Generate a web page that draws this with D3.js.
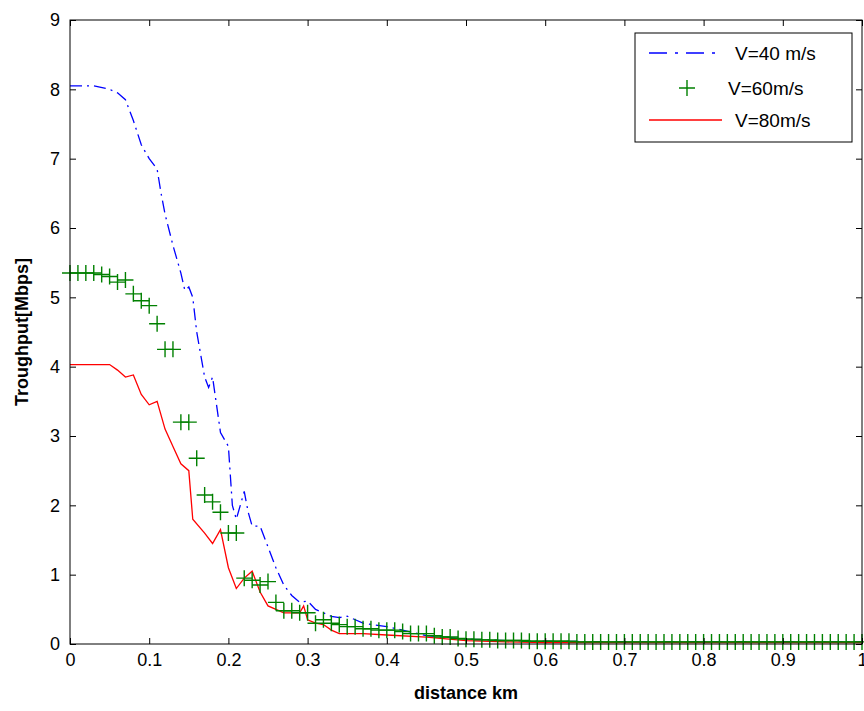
<!DOCTYPE html>
<html><head><meta charset="utf-8">
<script src="https://cdn.jsdelivr.net/npm/d3@7"></script>
<style>body{margin:0;background:#fff}text{font-family:"Liberation Sans",Arial,sans-serif}</style>
</head><body><svg id="chart" width="864" height="711"></svg>
<script>
const xTicks = [0, 0.1, 0.2, 0.3, 0.4, 0.5, 0.6, 0.7, 0.8, 0.9, 1];
const yTicks = [0, 1, 2, 3, 4, 5, 6, 7, 8, 9];

const v40 = [[0,8.05],[0.03,8.05],[0.05,8.0],[0.06,7.95],[0.07,7.85],[0.08,7.55],[0.09,7.2],[0.1,7.0],[0.11,6.85],[0.115,6.5],[0.12,6.2],[0.13,5.75],[0.14,5.35],[0.145,5.1],[0.15,5.15],[0.155,5.0],[0.16,4.5],[0.17,3.85],[0.175,3.7],[0.18,3.85],[0.185,3.45],[0.19,3.05],[0.2,2.85],[0.205,2.0],[0.21,1.8],[0.22,2.2],[0.225,1.9],[0.23,1.7],[0.24,1.7],[0.25,1.4],[0.26,1.1],[0.27,0.85],[0.28,0.7],[0.29,0.6],[0.3,0.62],[0.31,0.5],[0.32,0.45],[0.33,0.4],[0.34,0.38],[0.35,0.4],[0.37,0.3],[0.4,0.25],[0.42,0.2],[0.45,0.12],[0.47,0.1],[0.5,0.07],[0.55,0.05],[0.6,0.04],[0.7,0.03],[0.8,0.03],[0.9,0.03],[1,0.03]];

const v60x = d3.range(0, 101).map(i => i / 100);
const v60y = [5.35,5.35,5.35,5.35,5.33,5.3,5.22,5.25,5.05,4.95,4.88,4.62,4.25,4.25,3.2,3.2,2.68,2.15,2.05,1.9,1.6,1.6,0.95,0.92,0.85,0.9,0.6,0.48,0.48,0.45,0.45,0.3,0.35,0.3,0.28,0.25,0.25,0.22,0.22,0.2,0.2,0.2,0.18,0.15,0.15,0.15,0.12,0.1,0.1,0.08,0.07,0.07,0.06,0.06,0.05,0.05,0.05,0.05,0.04,0.04,0.04,0.04,0.04,0.04,0.03,0.03,0.03,0.03,0.03,0.03,0.03,0.03,0.03,0.03,0.03,0.03,0.03,0.03,0.03,0.03,0.03,0.03,0.03,0.03,0.03,0.03,0.03,0.03,0.03,0.03,0.03,0.03,0.03,0.03,0.03,0.03,0.03,0.03,0.03,0.03,0.03];

const v80 = [[0,4.03],[0.05,4.03],[0.06,3.95],[0.07,3.85],[0.08,3.88],[0.09,3.6],[0.1,3.45],[0.11,3.5],[0.12,3.1],[0.13,2.85],[0.14,2.6],[0.15,2.5],[0.155,1.8],[0.17,1.6],[0.18,1.45],[0.19,1.65],[0.2,1.1],[0.21,0.8],[0.22,0.95],[0.23,1.05],[0.24,0.75],[0.25,0.55],[0.26,0.5],[0.27,0.45],[0.28,0.45],[0.29,0.45],[0.295,0.55],[0.3,0.35],[0.31,0.3],[0.32,0.28],[0.33,0.2],[0.34,0.15],[0.37,0.15],[0.4,0.13],[0.45,0.1],[0.5,0.05],[0.55,0.03],[0.6,0.02],[0.8,0.02],[1,0.02]];

const svg = d3.select('#chart');
const m = { l: 70, r: 2, t: 20, b: 67 };
const W = 864 - m.l - m.r, H = 711 - m.t - m.b;
const g = svg.append('g').attr('transform', `translate(${m.l},${m.t})`);
const x = d3.scaleLinear().domain([0, 1]).range([0, W]);
const y = d3.scaleLinear().domain([0, 9]).range([H, 0]);

const line = d3.line().x(d => x(d[0])).y(d => y(d[1]));
g.append('path').datum(v40).attr('d', line).attr('fill', 'none')
  .attr('stroke', '#0000ff').attr('stroke-width', 1.3).attr('stroke-dasharray', '12,5,2,5');
g.append('path').datum(v80).attr('d', line).attr('fill', 'none')
  .attr('stroke', '#ff0000').attr('stroke-width', 1.3);
const s = 8;
g.append('g').selectAll('path').data(v60x).join('path')
  .attr('d', (d, i) => `M${x(d) - s},${y(v60y[i])}h${2 * s}M${x(d)},${y(v60y[i]) - s}v${2 * s}`)
  .attr('stroke', '#008000').attr('stroke-width', 1.4);

// Box and inward ticks
g.append('rect').attr('width', W).attr('height', H).attr('fill', 'none').attr('stroke', '#000');
const ax = (a, tr) => g.append('g').attr('transform', tr).call(a)
  .call(s => s.select('.domain').remove())
  .call(s => s.selectAll('text').attr('font-size', 18).attr('fill', '#000'));
ax(d3.axisBottom(x).tickValues(xTicks).tickSize(-6).tickPadding(9).tickFormat(d3.format('')), `translate(0,${H})`);
ax(d3.axisLeft(y).tickValues(yTicks).tickSize(-6).tickPadding(10), '');
g.append('g').call(d3.axisTop(x).tickValues(xTicks).tickSize(-6).tickFormat(''))
  .call(s => s.select('.domain').remove());
g.append('g').attr('transform', `translate(${W},0)`).call(d3.axisRight(y).tickValues(yTicks).tickSize(-6).tickFormat(''))
  .call(s => s.select('.domain').remove());

svg.append('text').attr('x', m.l + W / 2).attr('y', 699).attr('text-anchor', 'middle')
  .attr('font-size', 18).attr('font-weight', 'bold').text('distance km');
svg.append('text').attr('transform', `translate(28,${m.t + H / 2}) rotate(-90)`).attr('text-anchor', 'middle')
  .attr('font-size', 18).attr('font-weight', 'bold').text('Troughput[Mbps]');

// Legend
const lg = svg.append('g').attr('transform', 'translate(635,33)');
lg.append('rect').attr('width', 217).attr('height', 109).attr('fill', '#fff').attr('stroke', '#000');
lg.append('line').attr('x1', 14).attr('x2', 87).attr('y1', 20).attr('y2', 20)
  .attr('stroke', '#0000ff').attr('stroke-width', 1.3).attr('stroke-dasharray', '18,8,3,8');
lg.append('path').attr('d', 'M44,55h16M52,47v16').attr('stroke', '#008000').attr('stroke-width', 1.4);
lg.append('line').attr('x1', 14).attr('x2', 87).attr('y1', 87).attr('y2', 87).attr('stroke', '#ff0000').attr('stroke-width', 1.3);
const lt = [['V=40 m/s', 100, 20], ['V=60m/s', 93, 55], ['V=80m/s', 100, 87]];
lg.selectAll('text.l').data(lt).join('text').attr('x', d => d[1]).attr('y', d => d[2] + 7)
  .attr('font-size', 19).text(d => d[0]);
</script></body></html>
